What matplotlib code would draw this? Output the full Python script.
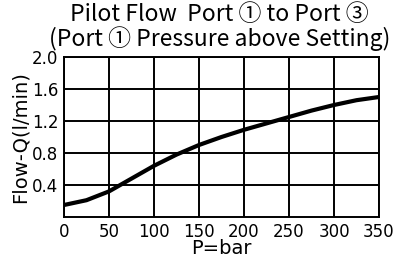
import matplotlib
matplotlib.use("Agg")
import matplotlib.pyplot as plt
import numpy as np

plt.rcParams['font.family'] = ['DejaVu Sans', 'Noto Sans CJK JP']

pressure = [0, 25, 50, 75, 100, 125, 150, 175, 200, 225, 250, 275, 300, 325, 350]
flow = [0.15, 0.21, 0.32, 0.48, 0.64, 0.78, 0.90, 1.00, 1.09, 1.17, 1.25, 1.33, 1.40, 1.46, 1.50]
xticks = [0, 50, 100, 150, 200, 250, 300, 350]
yticks = [0.4, 0.8, 1.2, 1.6, 2.0]
ytick_labels = ["0.4", "0.8", "1.2", "1.6", "2.0"]

fig = plt.figure(figsize=(4.0, 2.61), dpi=100)
ax = fig.add_axes([0.16, 0.1686, 0.7875, 0.613])

ax.plot(pressure, flow, color='black', lw=3, solid_capstyle='butt', solid_joinstyle='round')
ax.set_xlim(0, 350)
ax.set_ylim(0, 2.0)
ax.set_xticks(xticks)
ax.set_yticks(yticks)
ax.set_yticklabels(ytick_labels)
ax.grid(True, color='black', lw=1.4)
for s in ax.spines.values():
    s.set_color('black')
    s.set_linewidth(1.4)
ax.tick_params(length=0, labelsize=12, pad=4)
ax.set_xlabel("P=bar", fontsize=14, labelpad=-1)
ax.set_ylabel("Flow-Q(l/min)", fontsize=14, labelpad=2)

title_family = ['Noto Sans CJK JP', 'DejaVu Sans']
fig.text(0.548, 0.99, "Pilot Flow  Port \u2460 to Port \u2462", ha='center', va='top',
         fontsize=16.5, family=title_family)
fig.text(0.548, 0.9, "(Port \u2460 Pressure above Setting)", ha='center', va='top',
         fontsize=16.5, family=title_family)

fig.savefig("out.png", dpi=100)
